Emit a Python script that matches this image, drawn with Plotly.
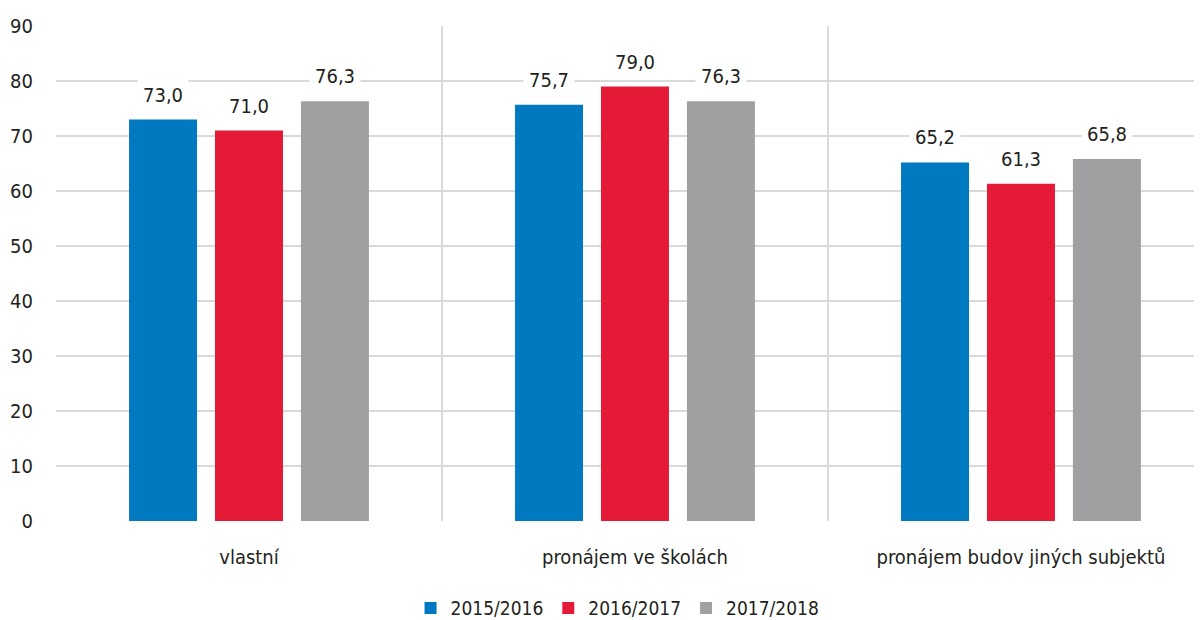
import plotly.graph_objects as go

categories = ["vlastní", "pronájem ve školách", "pronájem budov jiných subjektů"]
series_names = ["2015/2016", "2016/2017", "2017/2018"]
values_2015 = [73.0, 75.7, 65.2]
values_2016 = [71.0, 79.0, 61.3]
values_2017 = [76.3, 76.3, 65.8]
y_ticks = [0, 10, 20, 30, 40, 50, 60, 70, 80, 90]

colors = ["#0079C1", "#E41A37", "#A0A0A3"]
all_values = [values_2015, values_2016, values_2017]

FONT = "DejaVu Sans Condensed, Liberation Sans Narrow, Roboto, sans-serif"

fig = go.Figure()
for name, vals, col in zip(series_names, all_values, colors):
    fig.add_trace(go.Bar(x=categories, y=vals, name=name, marker_color=col,
                         marker_line_width=0))

annotations = []
offsets = [-86, 0, 86]
for vals, off in zip(all_values, offsets):
    for c, v in zip(categories, vals):
        annotations.append(dict(
            x=c, y=v, xref="x", yref="y", xshift=off, yshift=7,
            text=f"{v:.1f}".replace(".", ","), showarrow=False,
            yanchor="bottom", bgcolor="white", borderpad=5,
            font=dict(family=FONT, size=20, color="#231F20")))

fig.update_layout(
    width=1202, height=640,
    margin=dict(l=48, r=8, t=18, b=127),
    plot_bgcolor="white", paper_bgcolor="white",
    barmode="group", bargap=0.332, bargroupgap=0.209,
    font=dict(family=FONT, size=20, color="#231F20"),
    annotations=annotations,
    legend=dict(orientation="h", x=0.49, xanchor="center", y=-0.176,
                yanchor="middle", font=dict(size=19), itemwidth=30),
    xaxis=dict(range=[-0.5, 2.469], tickson="boundaries", showgrid=True,
               gridcolor="#D9D9D9", gridwidth=1.5, ticks="", ticklabelstandoff=22,
               showline=False, zeroline=False, automargin=False),
    yaxis=dict(range=[0, 90], tickvals=y_ticks, showgrid=True,
               gridcolor="#D9D9D9", gridwidth=1.5, zeroline=False,
               ticks="", ticklabelstandoff=22, showline=False, automargin=False),
)
fig.write_html("out.html")
